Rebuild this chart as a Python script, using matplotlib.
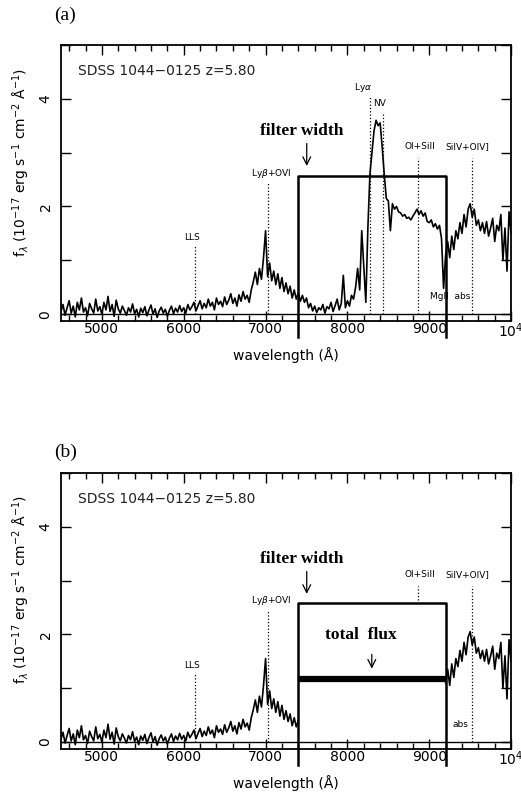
import numpy as np
import matplotlib.pyplot as plt
from matplotlib.ticker import MultipleLocator, FixedLocator, FuncFormatter

# --- data ------------------------------------------------------------------
wave = np.arange(4500, 10001, 25)  # sampling grid, Angstrom
flux = np.array([
    # 4500-4975
    0.05, 0.18, -0.02, 0.12, 0.25, 0.02, 0.15, -0.05, 0.22, 0.08,
    0.30, 0.04, 0.12, -0.03, 0.20, 0.10, 0.02, 0.28, 0.06, 0.14,
    # 5000-5475
    0.00, 0.22, 0.08, 0.33, 0.05, 0.18, -0.04, 0.26, 0.10, 0.02,
    0.15, 0.07, -0.02, 0.12, 0.04, 0.19, 0.01, 0.09, -0.05, 0.11,
    # 5500-5975
    0.03, 0.14, -0.03, 0.08, 0.17, 0.00, 0.10, -0.06, 0.06, 0.13,
    0.02, 0.09, -0.04, 0.07, 0.15, 0.01, 0.11, 0.04, 0.16, 0.05,
    # 6000-6475
    0.12, 0.02, 0.18, 0.08, 0.14, 0.22, 0.06, 0.16, 0.25, 0.10,
    0.20, 0.12, 0.28, 0.15, 0.22, 0.08, 0.30, 0.18, 0.24, 0.14,
    # 6500-6975
    0.32, 0.18, 0.26, 0.38, 0.20, 0.30, 0.15, 0.36, 0.24, 0.42,
    0.28, 0.35, 0.22, 0.45, 0.60, 0.78, 0.55, 0.85, 0.65, 1.05,
    # 7000-7475
    1.55, 0.70, 0.95, 0.62, 0.80, 0.55, 0.75, 0.48, 0.68, 0.42,
    0.58, 0.38, 0.52, 0.30, 0.45, 0.28, 0.40, 0.24, 0.35, 0.22,
    # 7500-7975
    0.30, 0.12, 0.20, 0.06, 0.15, 0.03, 0.12, 0.08, 0.18, 0.02,
    0.14, 0.10, 0.22, 0.05, 0.16, 0.28, 0.08, 0.20, 0.72, 0.12,
    # 8000-8475
    0.25, 0.15, 0.35, 0.28, 0.50, 0.85, 0.45, 1.55, 0.90, 0.22,
    1.60, 2.60, 3.00, 3.40, 3.60, 3.50, 3.55, 3.10, 2.60, 2.15,
    # 8500-8975
    2.10, 1.55, 2.05, 1.95, 2.00, 1.90, 1.88, 1.82, 1.85, 1.78,
    1.80, 1.75, 1.82, 1.88, 1.95, 1.85, 1.92, 1.82, 1.88, 1.72,
    # 9000-9475
    1.70, 1.75, 1.62, 1.68, 1.58, 1.65, 1.40, 0.48, 1.10, 1.35,
    1.05, 1.45, 1.20, 1.55, 1.40, 1.70, 1.50, 1.85, 1.62, 1.95,
    # 9500-10000
    2.05, 1.80, 1.95, 1.65, 1.75, 1.55, 1.70, 1.50, 1.72, 1.45,
    1.60, 1.78, 1.35, 1.65, 1.55, 1.85, 1.00, 1.60, 0.80, 1.90, 1.50,
])

# line markers: name, wavelength, top of dotted line, label position
line_names = ["LLS", r"Ly$\beta$+OVI", r"Ly$\alpha$", "NV", "OI+SiII", "SiIV+OIV]"]
line_wave = [6140, 7030, 8270, 8440, 8860, 9528]
line_top = [1.28, 2.44, 4.03, 3.74, 2.90, 2.90]
label_x = [6100, 7075, 8190, 8390, 8890, 9460]
label_y = [1.42, 2.62, 4.20, 3.91, 3.11, 3.11]

filter_lo, filter_hi = 7400, 9200
box_top = [2.57, 2.59]
total_flux = 1.17

ticks_x = [5000, 6000, 7000, 8000, 9000, 10000]


def draw_panel(ax, letter, masked):
    if masked:
        f = np.where((wave > filter_lo) & (wave < filter_hi), np.nan, flux)
    else:
        f = flux
    ax.plot(wave, f, color="black", lw=1.2)
    ax.axhline(0, color="black", lw=1.0)

    # line markers
    for i, name in enumerate(line_names):
        inside = filter_lo < line_wave[i] < filter_hi
        if masked and inside:
            if name.startswith("OI"):
                ax.plot([line_wave[i]] * 2, [box_top[1] + 0.05, line_top[i]],
                        color="black", ls=":", lw=0.9)
                ax.text(label_x[i], label_y[i], name, fontsize=6.5,
                        ha="center", va="center")
            continue
        ax.plot([line_wave[i]] * 2, [0, line_top[i]], color="black",
                ls=":", lw=0.9)
        ax.text(label_x[i], label_y[i], name, fontsize=6.5, ha="center",
                va="center")
    if masked:
        ax.text(9386, 0.33, "abs", fontsize=6.5, ha="center", va="center")
    else:
        ax.text(9255, 0.32, "MgII  abs", fontsize=6.5, ha="center",
                va="center")

    # filter box
    top = box_top[1] if masked else box_top[0]
    ax.plot([filter_lo, filter_lo, filter_hi, filter_hi],
            [-0.43, top, top, -0.43], color="black", lw=1.8,
            clip_on=False, zorder=5)
    ax.text(7446, 3.40, "filter width", family="Liberation Serif",
            fontsize=12.5, fontweight="bold", ha="center", va="center")
    ax.annotate("", xy=(7503, 2.70), xytext=(7503, 3.22),
                arrowprops=dict(arrowstyle="->", lw=0.9, color="black",
                                mutation_scale=14))
    if masked:
        ax.plot([filter_lo, filter_hi], [total_flux, total_flux],
                color="black", lw=4.5, solid_capstyle="butt", zorder=5)
        ax.text(8167, 1.99, "total  flux", family="Liberation Serif",
                fontsize=12.5, fontweight="bold", ha="center", va="center")
        ax.annotate("", xy=(8298, 1.31), xytext=(8298, 1.68),
                    arrowprops=dict(arrowstyle="->", lw=0.9,
                                    color="black", mutation_scale=14))

    ax.text(4708, 4.52, "SDSS 1044\u22120125 z=5.80", fontsize=10,
            ha="left", va="center", color="#222222")

    ax.set_xlim(4500, 10000)
    ax.set_ylim(-0.13, 5.0)
    ax.xaxis.set_major_locator(FixedLocator(ticks_x))
    ax.xaxis.set_minor_locator(MultipleLocator(200))
    ax.xaxis.set_major_formatter(FuncFormatter(
        lambda v, p: r"10$^4$" if v >= 10000 else f"{int(v)}"))
    ax.yaxis.set_major_locator(MultipleLocator(1))
    ax.yaxis.set_major_formatter(FuncFormatter(
        lambda v, p: f"{int(v)}" if int(round(v)) % 2 == 0 else ""))
    ax.tick_params(which="both", direction="in", top=True, right=True,
                   labelsize=10, width=1.0)
    ax.tick_params(which="major", length=7)
    ax.tick_params(which="minor", length=4)
    ax.tick_params(axis="x", pad=0.5)
    ax.tick_params(axis="y", labelrotation=90, pad=6)
    for lab in ax.get_yticklabels():
        lab.set_va("center")
    for s in ax.spines.values():
        s.set_linewidth(1.3)

    ax.set_xlabel("wavelength (\u00c5)", fontsize=10, labelpad=5)
    ax.set_ylabel(r"f$_\lambda$ (10$^{-17}$ erg s$^{-1}$ cm$^{-2}$ "
                  "\u00c5$^{-1}$)", fontsize=10)
    ax.yaxis.set_label_coords(-0.065, 0.576)

    ax.text(-0.015, 1.076 if masked else 1.106, letter,
            transform=ax.transAxes, family="Liberation Serif",
            fontsize=14, ha="left", va="center")


fig = plt.figure(figsize=(5.21, 8.01), dpi=100)
ax_a = fig.add_axes([0.117, 0.599, 0.864, 0.345])
ax_b = fig.add_axes([0.117, 0.065, 0.864, 0.3446])

draw_panel(ax_a, "(a)", masked=False)
draw_panel(ax_b, "(b)", masked=True)

fig.savefig("out.png", dpi=100)
